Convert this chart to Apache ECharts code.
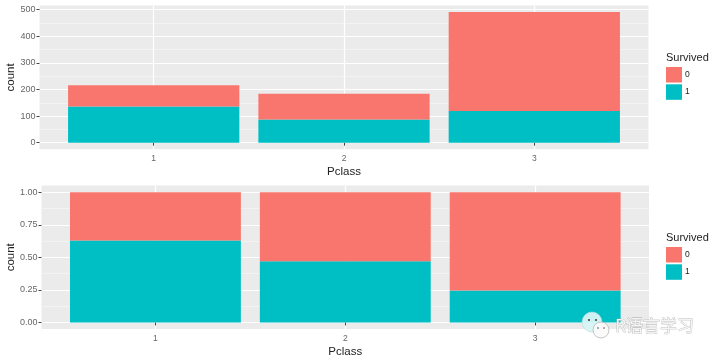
<!DOCTYPE html>
<html>
<head>
<meta charset="utf-8">
<style>html,body{margin:0;padding:0;background:#fff}#c{width:720px;height:360px}</style>
<script src="https://cdn.jsdelivr.net/npm/echarts@6/dist/echarts.min.js"></script>
</head>
<body>
<div id="c"></div>
<script>
const pclass = [1, 2, 3];
const countSurvived1 = [136, 87, 119];
const countSurvived0 = [80, 97, 372];
const fillSurvived1 = [0.63, 0.47, 0.245];
const fillSurvived0 = [0.37, 0.53, 0.755];
const countTicks = [0, 100, 200, 300, 400, 500];
const countMinor = [50, 150, 250, 350, 450];
const fillTicks = [0, 0.25, 0.5, 0.75, 1];
const fillMinor = [0.125, 0.375, 0.625, 0.875];

const RED = '#f8766d', TEAL = '#00bfc4', FONT = '"Liberation Sans", Arial, sans-serif';

// Panel axes: grey panel, grid lines, ticks, labels.
function xPanel(gridIndex) {
  return {
    type: 'value', gridIndex, min: 0.4, max: 3.6,
    name: 'Pclass', nameLocation: 'middle', nameGap: 17, nameMoveOverlap: false,
    nameTextStyle: { fontFamily: FONT, fontSize: 11.5, color: '#222' },
    axisLine: { show: false },
    axisTick: { show: true, length: 3, customValues: pclass, lineStyle: { color: '#444' } },
    axisLabel: { show: true, customValues: pclass, margin: 5, fontFamily: FONT, fontSize: 8.5, color: '#666', formatter: v => String(v), hideOverlap: false, showMinLabel: true, showMaxLabel: true },
    splitLine: { show: true, lineStyle: { color: '#fff', width: 1.2 } }
  };
}
function yMain(gridIndex, min, max, ticks, fmt, nameGap) {
  return {
    type: 'value', gridIndex, min, max,
    name: 'count', nameLocation: 'middle', nameGap, nameMoveOverlap: false,
    nameRotate: 90,
    nameTextStyle: { fontFamily: FONT, fontSize: 11.5, color: '#222' },
    axisLine: { show: false },
    axisTick: { show: true, length: 3, customValues: ticks, lineStyle: { color: '#444' } },
    axisLabel: { show: true, customValues: ticks, margin: 4, fontFamily: FONT, fontSize: 9, color: '#666', formatter: fmt },
    splitLine: { show: true, lineStyle: { color: '#fff', width: 1.2 } }
  };
}
function yMinor(gridIndex, min, max, ticks) {
  return {
    type: 'value', gridIndex, min, max,
    axisLine: { show: false },
    axisTick: { show: false, customValues: ticks },
    axisLabel: { show: false, customValues: ticks },
    splitLine: { show: true, lineStyle: { color: '#f5f5f5', width: 0.8 } }
  };
}
// Bar axes: hidden, sharing the panel's value range, with one band per class.
function xBars(gridIndex) {
  return { type: 'category', gridIndex, data: pclass.map(String), show: false };
}
function yBars(gridIndex, min, max) {
  return { type: 'value', gridIndex, min, max, show: false, splitLine: { show: false } };
}
function bars(name, color, xi, yi, data) {
  return {
    type: 'bar', name, stack: 'g' + xi, xAxisIndex: xi, yAxisIndex: yi,
    barWidth: '90%', itemStyle: { color }, data, silent: true, animation: false
  };
}
function legend(top) {
  return {
    orient: 'vertical', left: 666, top, itemWidth: 16, itemHeight: 15.5, itemGap: 1.8,
    data: ['0', '1'], selectedMode: false, icon: 'rect',
    textStyle: { fontFamily: FONT, fontSize: 8.5, color: '#222', padding: [0, 0, 0, -2] },
    padding: 0
  };
}
const chart = echarts.init(document.getElementById('c'), null, { renderer: 'canvas' });
const panel = { show: true, backgroundColor: '#ebebeb', borderWidth: 0, outerBoundsMode: 'none' };
const R1 = [-24.8, 515.8], R2 = [-0.05, 1.052];
chart.setOption({
  animation: false,
  backgroundColor: '#fff',
  grid: [
    Object.assign({ left: 39.5, width: 609, top: 5.5, height: 143.8 }, panel),
    Object.assign({ left: 41.5, width: 607.5, top: 185.5, height: 143.5 }, panel),
    { show: false, outerBoundsMode: 'none', left: 58.55, width: 570.9, top: 5.5, height: 143.8 },
    { show: false, outerBoundsMode: 'none', left: 60.5, width: 569.6, top: 185.5, height: 143.5 }
  ],
  xAxis: [xPanel(0), xPanel(1), xBars(2), xBars(3)],
  yAxis: [
    yMain(0, R1[0], R1[1], countTicks, v => String(v), 23),
    yMinor(0, R1[0], R1[1], countMinor),
    yMain(1, R2[0], R2[1], fillTicks, v => v.toFixed(2), 25),
    yMinor(1, R2[0], R2[1], fillMinor),
    yBars(2, R1[0], R1[1]),
    yBars(3, R2[0], R2[1])
  ],
  legend: [legend(67), legend(247)],
  series: [
    bars('1', TEAL, 2, 4, countSurvived1),
    bars('0', RED, 2, 4, countSurvived0),
    bars('1', TEAL, 3, 5, fillSurvived1),
    bars('0', RED, 3, 5, fillSurvived0)
  ],
  graphic: [
    { type: 'text', left: 666, top: 52, style: { text: 'Survived', font: '11px ' + FONT, fill: '#222' } },
    { type: 'text', left: 666, top: 232, style: { text: 'Survived', font: '11px ' + FONT, fill: '#222' } },
    { type: 'circle', shape: { cx: 592, cy: 322, r: 10 }, style: { fill: '#d8f4f6', stroke: '#b8d8dc', lineWidth: 0.6, opacity: 0.95 }, z: 50 },
    { type: 'circle', shape: { cx: 589, cy: 320, r: 1.1 }, style: { fill: '#444' }, z: 50 },
    { type: 'circle', shape: { cx: 596, cy: 320, r: 1.1 }, style: { fill: '#444' }, z: 50 },
    { type: 'circle', shape: { cx: 601, cy: 330, r: 8 }, style: { fill: '#fafafa', stroke: '#b5b5b5', lineWidth: 0.8, opacity: 0.95 }, z: 51 },
    { type: 'circle', shape: { cx: 598, cy: 328, r: 0.9 }, style: { fill: '#888' }, z: 51 },
    { type: 'circle', shape: { cx: 604, cy: 328, r: 0.9 }, style: { fill: '#888' }, z: 51 },
    { type: 'text', left: 615, top: 317, z: 52, style: { text: 'R语言学习', font: '17px "Noto Sans CJK SC"', fill: '#f4f4f4', stroke: '#a8a8a8', lineWidth: 0.6 } }
  ]
});
</script>
</body>
</html>
